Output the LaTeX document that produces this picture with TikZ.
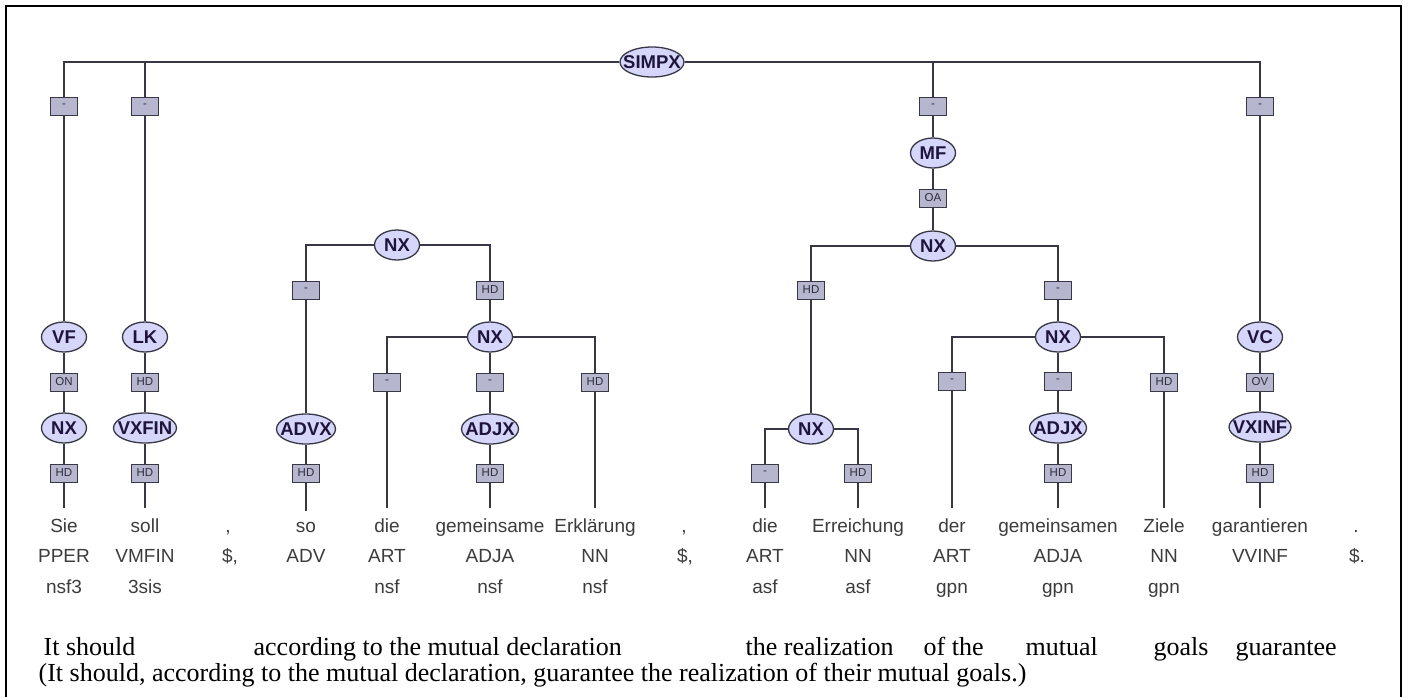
\documentclass[tikz,border=0pt]{standalone}
\usepackage{fontspec}
\setmainfont{Liberation Serif}
\newfontfamily\treefont{Liberation Sans}
\usepackage{tikz}
\usetikzlibrary{shapes.geometric}

\definecolor{edgecol}{RGB}{55,55,70}
\definecolor{catfill}{RGB}{214,214,250}
\definecolor{cattext}{RGB}{30,20,60}
\definecolor{labfill}{RGB}{182,182,206}
\definecolor{labtext}{RGB}{45,45,60}
\definecolor{wordcol}{RGB}{60,60,60}

\newcommand{\catfont}{\treefont\fontsize{18.5}{20}\selectfont\bfseries}
\newcommand{\labfont}{\treefont\fontsize{11.5}{12}\selectfont}
\newcommand{\wordfont}{\treefont\fontsize{19}{21}\selectfont}
\newcommand{\engfont}{\fontsize{26}{28}\selectfont}

\begin{document}
\begin{tikzpicture}[x = 1pt, y = -1pt, line width = 1.3pt, draw = edgecol,
    cat/.style = {ellipse, draw = edgecol, fill = catfill, text = cattext, font = \catfont,
                  inner xsep = -20pt, inner ysep = 0pt, minimum height = 30, minimum width = #1},
    cat/.default = 45,
    lab/.style = {rectangle, draw = edgecol, fill = labfill, text = labtext, font = \labfont,
                  line width = 1pt, inner sep = 0pt, minimum width = 27, minimum height = 18},
    wrd/.style = {anchor = base, text = wordcol, font = \wordfont, inner xsep = 2pt, inner ysep = 10pt},
    eng/.style = {anchor = base west, inner sep = 0pt, font = \engfont}]
  \useasboundingbox (0, 0) rectangle (1409, 697);
  \fill [white] (0, 0) rectangle (1409, 697);
  \draw [line width = 2.4pt, black] (6, 697) |- (1401, 6) -- (1401, 697);

  % phrase nodes
  \node [cat = 64] (simpx) at (652, 62) {SIMPX};
  \node [cat] (vf) at (64, 337) {VF};
  \node [cat] (nx1) at (64, 428) {NX};
  \node [cat] (lk) at (145, 337) {LK};
  \node [cat = 63] (vxfin) at (145, 428) {VXFIN};
  \node [cat] (nx2) at (397, 245) {NX};
  \node [cat = 59] (advx) at (306, 429) {ADVX};
  \node [cat] (nx3) at (490, 337) {NX};
  \node [cat = 57] (adjx1) at (490, 429) {ADJX};
  \node [cat] (mf) at (933, 153) {MF};
  \node [cat] (nx4) at (933, 246) {NX};
  \node [cat] (nx5) at (811, 429) {NX};
  \node [cat] (nx6) at (1058, 337) {NX};
  \node [cat = 57] (adjx2) at (1058, 428) {ADJX};
  \node [cat] (vc) at (1260, 337) {VC};
  \node [cat = 62] (vxinf) at (1260, 427) {VXINF};

  % edge labels
  \node [lab] (b1) at (64, 106) {-};
  \node [lab] (b2) at (145, 106) {-};
  \node [lab] (b3) at (933, 106) {-};
  \node [lab] (b4) at (1260, 106) {-};
  \node [lab] (on) at (64, 382) {ON};
  \node [lab] (hd1) at (64, 473) {HD};
  \node [lab] (hd2) at (145, 382) {HD};
  \node [lab] (hd3) at (145, 473) {HD};
  \node [lab] (b5) at (306, 290) {-};
  \node [lab] (hd4) at (490, 290) {HD};
  \node [lab] (hd5) at (306, 473) {HD};
  \node [lab] (b6) at (387, 382) {-};
  \node [lab] (b7) at (490, 382) {-};
  \node [lab] (hd6) at (595, 382) {HD};
  \node [lab] (hd7) at (490, 473) {HD};
  \node [lab] (oa) at (933, 198) {OA};
  \node [lab] (b8) at (811, 290) {HD};
  \node [lab] (b9) at (1058, 290) {-};
  \node [lab] (b10) at (765, 473) {-};
  \node [lab] (hd8) at (858, 473) {HD};
  \node [lab] (b11) at (952, 381) {-};
  \node [lab] (b12) at (1058, 381) {-};
  \node [lab] (hd9) at (1164, 382) {HD};
  \node [lab] (hd10) at (1058, 473) {HD};
  \node [lab] (ov) at (1260, 382) {OV};
  \node [lab] (hd11) at (1260, 473) {HD};

  % tokens, tags and morphology
  \node [wrd] (w1) at (64, 532) {Sie};
  \node [wrd] (w2) at (145, 532) {soll};
  \node [wrd] (w3) at (228, 532) {,};
  \node [wrd] (w4) at (306, 532) {so};
  \node [wrd] (w5) at (387, 532) {die};
  \node [wrd] (w6) at (490, 532) {gemeinsame};
  \node [wrd] (w7) at (595, 532) {Erklärung};
  \node [wrd] (w8) at (684, 532) {,};
  \node [wrd] (w9) at (765, 532) {die};
  \node [wrd] (w10) at (858, 532) {Erreichung};
  \node [wrd] (w11) at (952, 532) {der};
  \node [wrd] (w12) at (1058, 532) {gemeinsamen};
  \node [wrd] (w13) at (1164, 532) {Ziele};
  \node [wrd] (w14) at (1260, 532) {garantieren};
  \node [wrd] (w15) at (1356, 532) {.};

  \node [wrd] (t1) at (64, 562) {PPER};
  \node [wrd] (t2) at (145, 562) {VMFIN};
  \node [wrd] (t3) at (230, 562) {\$,};
  \node [wrd] (t4) at (306, 562) {ADV};
  \node [wrd] (t5) at (387, 562) {ART};
  \node [wrd] (t6) at (490, 562) {ADJA};
  \node [wrd] (t7) at (595, 562) {NN};
  \node [wrd] (t8) at (685, 562) {\$,};
  \node [wrd] (t9) at (765, 562) {ART};
  \node [wrd] (t10) at (858, 562) {NN};
  \node [wrd] (t11) at (952, 562) {ART};
  \node [wrd] (t12) at (1058, 562) {ADJA};
  \node [wrd] (t13) at (1164, 562) {NN};
  \node [wrd] (t14) at (1260, 562) {VVINF};
  \node [wrd] (t15) at (1357, 562) {\$.};

  \node [wrd] (m1) at (64, 593) {nsf3};
  \node [wrd] (m2) at (145, 593) {3sis};
  \node [wrd] (m5) at (387, 593) {nsf};
  \node [wrd] (m6) at (490, 593) {nsf};
  \node [wrd] (m7) at (595, 593) {nsf};
  \node [wrd] (m9) at (765, 593) {asf};
  \node [wrd] (m10) at (858, 593) {asf};
  \node [wrd] (m11) at (952, 593) {gpn};
  \node [wrd] (m12) at (1058, 593) {gpn};
  \node [wrd] (m13) at (1164, 593) {gpn};

  % gloss and translation
  \node [eng] (g1) at (43, 655) {It should};
  \node [eng] (g2) at (253, 655) {according to the mutual declaration};
  \node [eng] (g3) at (745, 655) {the realization};
  \node [eng] (g4) at (923, 655) {of the};
  \node [eng] (g5) at (1025, 655) {mutual};
  \node [eng] (g6) at (1153, 655) {goals};
  \node [eng] (g7) at (1235, 655) {guarantee};
  \node [eng] (tr) at (38, 681) {(It should, according to the mutual declaration, guarantee the realization of their mutual goals.)};

  % edges
  \draw (simpx) -| (b1);
  \draw (simpx) -| (b2);
  \draw (simpx) -| (b3);
  \draw (simpx) -| (b4);
  \draw (b1) -- (vf) -- (on) -- (nx1) -- (hd1) -- (w1);
  \draw (b2) -- (lk) -- (hd2) -- (vxfin) -- (hd3) -- (w2);
  \draw (nx2) -| (b5);
  \draw (nx2) -| (hd4);
  \draw (b5) -- (advx) -- (hd5) -- (w4);
  \draw (hd4) -- (nx3);
  \draw (nx3) -| (b6);
  \draw (nx3) -| (hd6);
  \draw (nx3) -- (b7) -- (adjx1) -- (hd7) -- (w6);
  \draw (b6) -- (w5);
  \draw (hd6) -- (w7);
  \draw (b3) -- (mf) -- (oa) -- (nx4);
  \draw (nx4) -| (b8);
  \draw (nx4) -| (b9);
  \draw (b8) -- (nx5);
  \draw (b9) -- (nx6);
  \draw (nx5) -| (b10);
  \draw (nx5) -| (hd8);
  \draw (b10) -- (w9);
  \draw (hd8) -- (w10);
  \draw (nx6) -| (b11);
  \draw (nx6) -| (hd9);
  \draw (nx6) -- (b12) -- (adjx2) -- (hd10) -- (w12);
  \draw (b11) -- (w11);
  \draw (hd9) -- (w13);
  \draw (b4) -- (vc) -- (ov) -- (vxinf) -- (hd11) -- (w14);
\end{tikzpicture}
\end{document}
